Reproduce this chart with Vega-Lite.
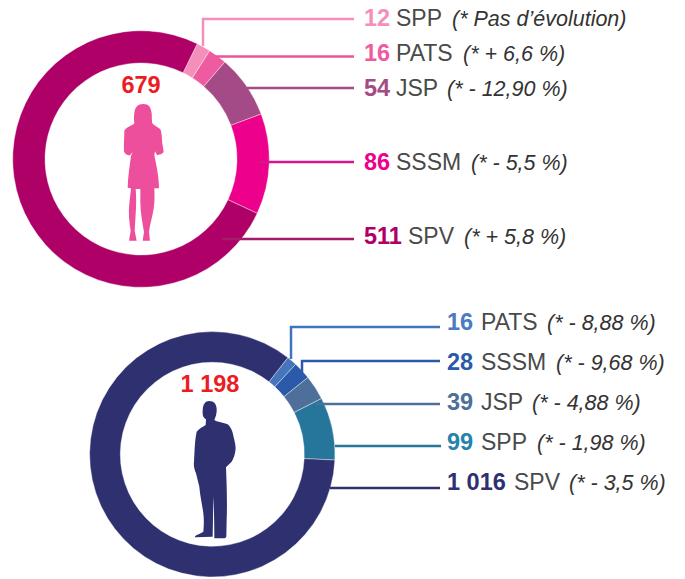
{
"$schema":"https://vega.github.io/schema/vega-lite/v6.json",
"width":685,"height":579,"padding":0,
"autosize":{"type":"fit","contains":"padding"},
"background":"white",
"view":{"stroke":null},
"config":{"text":{"font":"Liberation Sans"}},
"datasets":{
"segments":[
{"sex":"F","series":"F SPP","segment":"SPP","count":12,"countLabel":"12","note":"(* Pas d’évolution)","rank":1},
{"sex":"F","series":"F PATS","segment":"PATS","count":16,"countLabel":"16","note":"(* + 6,6 %)","rank":2},
{"sex":"F","series":"F JSP","segment":"JSP","count":54,"countLabel":"54","note":"(* - 12,90 %)","rank":3},
{"sex":"F","series":"F SSSM","segment":"SSSM","count":86,"countLabel":"86","note":"(* - 5,5 %)","rank":4},
{"sex":"F","series":"F SPV","segment":"SPV","count":511,"countLabel":"511","note":"(* + 5,8 %)","rank":5},
{"sex":"H","series":"H PATS","segment":"PATS","count":16,"countLabel":"16","note":"(* - 8,88 %)","rank":6},
{"sex":"H","series":"H SSSM","segment":"SSSM","count":28,"countLabel":"28","note":"(* - 9,68 %)","rank":7},
{"sex":"H","series":"H JSP","segment":"JSP","count":39,"countLabel":"39","note":"(* - 4,88 %)","rank":8},
{"sex":"H","series":"H SPP","segment":"SPP","count":99,"countLabel":"99","note":"(* - 1,98 %)","rank":9},
{"sex":"H","series":"H SPV","segment":"SPV","count":1016,"countLabel":"1 016","note":"(* - 3,5 %)","rank":10}
],
"totals":[{"sex":"F","total":679,"totalLabel":"679"},{"sex":"H","total":1198,"totalLabel":"1 198"}],
"leaders":[
{"series":"F SPP","pt":1},{"series":"F SPP","pt":2},{"series":"F SPP","pt":3},
{"series":"F PATS","pt":4},{"series":"F PATS","pt":5},
{"series":"F JSP","pt":6},{"series":"F JSP","pt":7},
{"series":"F SSSM","pt":8},{"series":"F SSSM","pt":9},
{"series":"F SPV","pt":10},{"series":"F SPV","pt":11},
{"series":"H PATS","pt":12},{"series":"H PATS","pt":13},{"series":"H PATS","pt":14},
{"series":"H SSSM","pt":15},{"series":"H SSSM","pt":16},{"series":"H SSSM","pt":17},
{"series":"H JSP","pt":18},{"series":"H JSP","pt":19},
{"series":"H SPP","pt":20},{"series":"H SPP","pt":21},
{"series":"H SPV","pt":22},{"series":"H SPV","pt":23}
]
},
"resolve":{"scale":{"x":"independent","y":"independent","theta":"independent","color":"independent"}},
"layer":[
{"data":{"name":"segments"},"transform":[{"filter":"datum.sex==='F'"}],
 "mark":{"type":"arc","innerRadius":96,"outerRadius":128.3,"stroke":"#ffffff","strokeWidth":0.4},
 "encoding":{
  "theta":{"field":"count","type":"quantitative","stack":true,"scale":{"domain":[0,679],"range":[0.4538,6.737],"nice":false}},
  "order":{"field":"rank","type":"quantitative"},
  "color":{"field":"series","type":"nominal","legend":null,"scale":{"domain":["F SPP","F PATS","F JSP","F SSSM","F SPV"],"range":["#F48FBB","#EF5BA1","#A44A86","#EC008C","#AE0066"]}},
  "x":{"field":"sex","type":"nominal","axis":null,"scale":{"type":"point","domain":["F","H"],"range":[141,212.3],"padding":0}},
  "y":{"field":"sex","type":"nominal","axis":null,"scale":{"type":"point","domain":["F","H"],"range":[159,454.3],"padding":0}}
 }},
{"data":{"name":"segments"},"transform":[{"filter":"datum.sex==='H'"}],
 "mark":{"type":"arc","innerRadius":92,"outerRadius":122.7,"stroke":"#ffffff","strokeWidth":0.4},
 "encoding":{
  "theta":{"field":"count","type":"quantitative","stack":true,"scale":{"domain":[0,1198],"range":[0.6632,6.9464],"nice":false}},
  "order":{"field":"rank","type":"quantitative"},
  "color":{"field":"series","type":"nominal","legend":null,"scale":{"domain":["H PATS","H SSSM","H JSP","H SPP","H SPV"],"range":["#4575BA","#2A5AA8","#4D6F9A","#26769C","#2E3070"]}},
  "x":{"field":"sex","type":"nominal","axis":null,"scale":{"type":"point","domain":["F","H"],"range":[141,212.3],"padding":0}},
  "y":{"field":"sex","type":"nominal","axis":null,"scale":{"type":"point","domain":["F","H"],"range":[159,454.3],"padding":0}}
 }},
{"data":{"name":"leaders"},
 "mark":{"type":"line","strokeWidth":2.5,"strokeJoin":"miter","strokeCap":"butt"},
 "encoding":{
  "x":{"field":"pt","type":"quantitative","axis":null,"scale":{"zero":false,"nice":false,"domain":[1,2,3,4,5,6,7,8,9,10,11,12,13,14,15,16,17,18,19,20,21,22,23],"range":[203,203,354,215,354,247,354,259,354,222,354,291,291,440,302,302,440,316,440,335,441,330,440]}},
  "y":{"field":"pt","type":"quantitative","axis":null,"scale":{"zero":false,"nice":false,"domain":[1,2,3,4,5,6,7,8,9,10,11,12,13,14,15,16,17,18,19,20,21,22,23],"range":[46,19,19,56.5,56.5,88,88,162,162,239,239,359,327,327,372,361,361,404,404,446,446,488,488]}},
  "color":{"field":"series","type":"nominal","legend":null,"scale":{"domain":["F SPP","F PATS","F JSP","F SSSM","F SPV","H PATS","H SSSM","H JSP","H SPP","H SPV"],"range":["#F48FBB","#EB549C","#A44A86","#D3178B","#A71A6B","#3F75BC","#2A5AA8","#4D6F9A","#26769C","#2E3070"]}},
  "detail":{"field":"series"},
  "order":{"field":"pt","type":"quantitative"}
 }},
{"data":{"name":"segments"},
 "mark":{"type":"text","align":"left","baseline":"alphabetic","fontSize":23.5,"fontWeight":"bold","font":"Liberation Sans"},
 "encoding":{
  "text":{"field":"countLabel"},
  "color":{"field":"series","type":"nominal","legend":null,"scale":{"domain":["F SPP","F PATS","F JSP","F SSSM","F SPV","H PATS","H SSSM","H JSP","H SPP","H SPV"],"range":["#F48FBB","#EF5BA1","#A44A86","#EC008C","#AE0066","#4A7ABF","#2A5AA8","#4D6F9A","#2582AB","#2E3070"]}},
  "x":{"field":"rank","type":"quantitative","axis":null,"scale":{"zero":false,"nice":false,"domain":[1,2,3,4,5,6,7,8,9,10],"range":[364,364,364,364,364,447,447,447,447,447]}},
  "y":{"field":"rank","type":"quantitative","axis":null,"scale":{"zero":false,"nice":false,"domain":[1,2,3,4,5,6,7,8,9,10],"range":[26,61,96,170,244,330,370,410,450,490]}}
 }},
{"data":{"name":"segments"},
 "mark":{"type":"text","align":"left","baseline":"alphabetic","fontSize":23,"color":"#4a4a4a","font":"Liberation Sans"},
 "encoding":{
  "text":{"field":"segment"},
  "x":{"field":"rank","type":"quantitative","axis":null,"scale":{"zero":false,"nice":false,"domain":[1,2,3,4,5,6,7,8,9,10],"range":[396,396,396,396,408,481,481,481,481,514]}},
  "y":{"field":"rank","type":"quantitative","axis":null,"scale":{"zero":false,"nice":false,"domain":[1,2,3,4,5,6,7,8,9,10],"range":[26,61,96,170,244,330,370,410,450,490]}}
 }},
{"data":{"name":"segments"},
 "mark":{"type":"text","align":"left","baseline":"alphabetic","fontSize":21.5,"fontStyle":"italic","color":"#333333","font":"Liberation Sans"},
 "encoding":{
  "text":{"field":"note"},
  "x":{"field":"rank","type":"quantitative","axis":null,"scale":{"zero":false,"nice":false,"domain":[1,2,3,4,5,6,7,8,9,10],"range":[452,463,447,471,464,547,556,532,537,569]}},
  "y":{"field":"rank","type":"quantitative","axis":null,"scale":{"zero":false,"nice":false,"domain":[1,2,3,4,5,6,7,8,9,10],"range":[26,61,96,170,244,330,370,410,450,490]}}
 }},
{"data":{"name":"totals"},
 "mark":{"type":"text","align":"center","baseline":"alphabetic","fontSize":23.5,"fontWeight":"bold","color":"#ED1C24","font":"Liberation Sans"},
 "encoding":{
  "text":{"field":"totalLabel"},
  "x":{"field":"sex","type":"nominal","axis":null,"scale":{"type":"point","domain":["F","H"],"range":[141,210],"padding":0}},
  "y":{"field":"sex","type":"nominal","axis":null,"scale":{"type":"point","domain":["F","H"],"range":[93,392],"padding":0}}
 }},
{"data":{"name":"totals"},"transform":[{"filter":"datum.sex==='F'"}],
 "mark":{"type":"point","filled":true,"size":0.444,"opacity":1,"color":"#EE4F9C","strokeWidth":0,
  "shape":"M-5,-204C12,-204 18,-194 20,-176C21,-165 20,-155 22,-146C30,-136 44,-134 48,-124C52,-105 50,-90 54,-74L56,-60C52,-54 44,-51 36,-51L30,-62L28,-50C34,-20 42,15 42,49L28,49C29,75 29,90 26,110C22,135 15,155 12,180L15,206L-7,206L-3,180C-8,150 -14,120 -14,90L-14,51L-28,51C-26,75 -26,100 -28,125L-31,176L-25,206L-48,206L-43,176C-48,150 -50,120 -47,94L-42,49L-52,47C-51,15 -46,-20 -42,-48L-37,-60L-45,-50C-52,-50 -60,-54 -63,-61C-64,-85 -62,-105 -62,-124C-55,-135 -40,-138 -32,-146C-34,-158 -33,-170 -32,-176C-31,-194 -22,-204 -5,-204Z"},
 "encoding":{
  "x":{"field":"sex","type":"nominal","axis":null,"scale":{"type":"point","domain":["F","H"],"range":[145,210],"padding":0}},
  "y":{"field":"sex","type":"nominal","axis":null,"scale":{"type":"point","domain":["F","H"],"range":[172,472],"padding":0}}
 }},
{"data":{"name":"totals"},"transform":[{"filter":"datum.sex==='H'"}],
 "mark":{"type":"point","filled":true,"size":0.444,"opacity":1,"color":"#2E3070","strokeWidth":0,
  "shape":"M-2,-213C12,-213 19,-204 20,-190C21,-178 17,-165 13,-156C25,-148 45,-148 55,-142C62,-135 66,-125 68,-118C72,-100 76,-88 77,-72C76,-55 72,-42 65,-31L48,-14C50,35 52,90 50,144L49,194L45,199L13,199C13,155 12,115 10,74C9,115 9,155 8,194L-45,196C-48,190 -30,186 -20,179C-18,160 -18,140 -20,124C-24,95 -30,70 -32,44L-42,4C-46,-6 -50,-18 -48,-31C-46,-60 -46,-95 -40,-121C-34,-130 -22,-134 -13,-141L-12,-158C-20,-162 -23,-170 -22,-182C-22,-204 -14,-213 -2,-213Z"},
 "encoding":{
  "x":{"field":"sex","type":"nominal","axis":null,"scale":{"type":"point","domain":["F","H"],"range":[145,210],"padding":0}},
  "y":{"field":"sex","type":"nominal","axis":null,"scale":{"type":"point","domain":["F","H"],"range":[172,472],"padding":0}}
 }}
]
}
